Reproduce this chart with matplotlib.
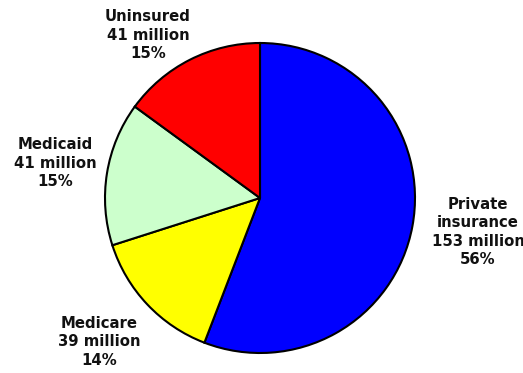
import matplotlib
matplotlib.use('Agg')
import matplotlib.pyplot as plt

# health insurance coverage, millions of people
categories = ['Private\ninsurance', 'Medicare', 'Medicaid', 'Uninsured']
millions = [153, 39, 41, 41]
percents = [56, 14, 15, 15]
colors = ['#0000FF', '#FFFF00', '#CCFFCC', '#FF0000']

W, H = 523, 373
fig = plt.figure(figsize=(W / 100, H / 100), dpi=100)
ax = fig.add_axes([0, 0, 1, 1])

ax.pie(millions, colors=colors, startangle=90, counterclock=False,
       center=(260, H - 198), radius=155,
       wedgeprops=dict(edgecolor='black', linewidth=1.5))

ax.set_xlim(0, W)
ax.set_ylim(0, H)
ax.set_aspect('equal')
ax.axis('off')

# label block centres (pixels from top-left)
label_pos = [(478, 232), (99, 342), (55, 163), (148, 35)]
for name, m, p, (x, y) in zip(categories, millions, percents, label_pos):
    txt = '%s\n%d million\n%d%%' % (name, m, p)
    ax.text(x, H - y, txt, ha='center', va='center', fontsize=10.7,
            fontweight='bold', linespacing=1.3, color='#111111',
            family='DejaVu Sans')

fig.savefig('out.png', dpi=100)
